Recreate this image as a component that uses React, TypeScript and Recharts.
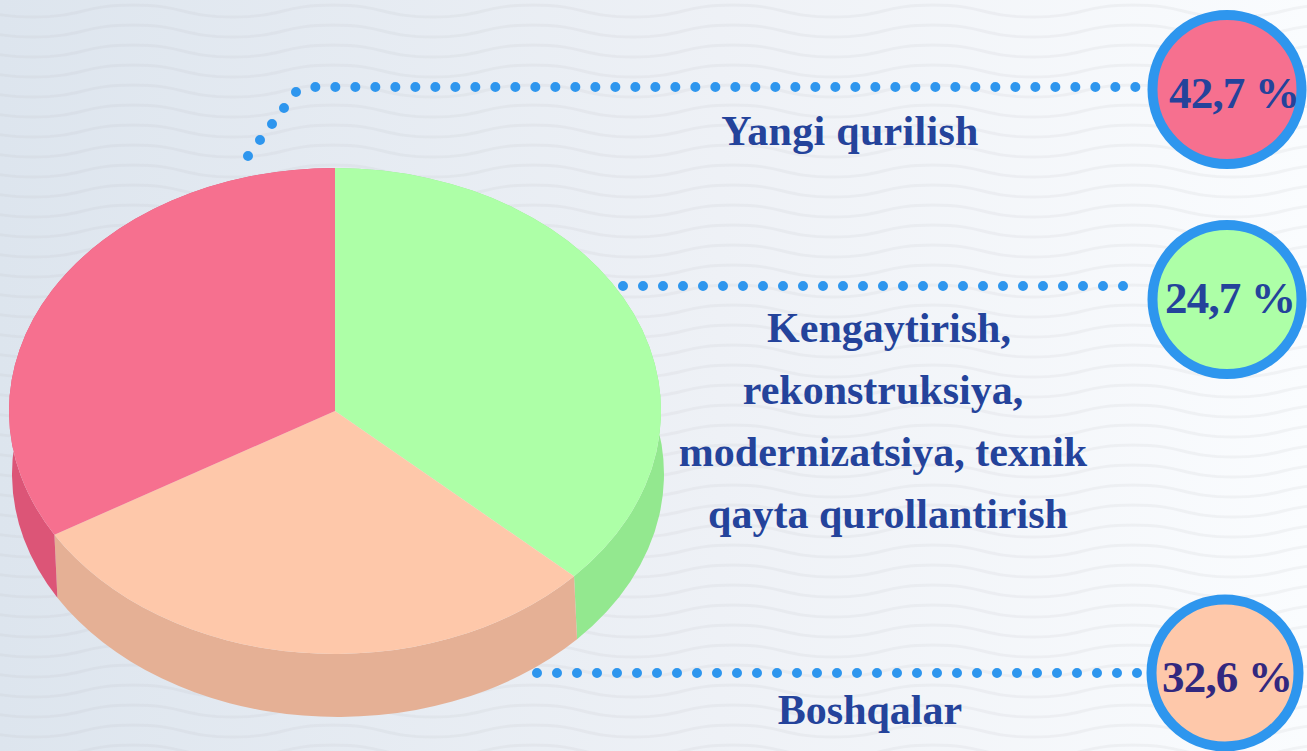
import React from 'react';
import { PieChart, Pie, Sector } from 'recharts';

// slice sizes as drawn (the picture's wedges do not follow the printed percentages)
const sliceNames = ['Kengaytirish', 'Boshqalar', 'Yangi qurilish'];
const sliceShares = [36.9, 29.6, 33.5];
const topColors = ['#adffa7', '#fec8aa', '#f6708f'];
const wallColors = ['#93e88f', '#e5b095', '#dc5577'];

const percentLabels = ['42,7 %', '24,7 %', '32,6 %'];
const percentFills = ['#f6708f', '#adffa7', '#fec8aa'];
const percentColors = ['#24439b', '#24439b', '#32287f'];

const WIDTH = 1307;
const HEIGHT = 751;
const CX = 335;
const CY = 411;
const RADIUS = 326;
const SQUASH = 243 / 326;
const DEPTH_X = 3;
const DEPTH_Y = 63;

const topData = sliceNames.map((name, i) => ({ name, value: sliceShares[i], fill: topColors[i] }));
const wallData = sliceNames.map((name, i) => ({ name, value: sliceShares[i], fill: wallColors[i] }));

const font = '"Liberation Serif", "Times New Roman", serif';
const RAD = Math.PI / 180;

const TopFace = (props: any) => (
  <g transform={`translate(0 ${props.cy}) scale(1 ${SQUASH}) translate(0 ${-props.cy})`}>
    <Sector {...props} stroke="none" />
  </g>
);

// side wall: the outer arc of a slice swept down by the pie's thickness
const Wall = (props: any) => {
  const { cx, cy, outerRadius: r, startAngle, endAngle, fill } = props;
  const ry = r * SQUASH;
  const x1 = cx + r * Math.cos(startAngle * RAD);
  const y1 = cy - ry * Math.sin(startAngle * RAD);
  const x2 = cx + r * Math.cos(endAngle * RAD);
  const y2 = cy - ry * Math.sin(endAngle * RAD);
  const large = Math.abs(startAngle - endAngle) > 180 ? 1 : 0;
  const d = `M${x1},${y1} A${r},${ry} 0 ${large} 1 ${x2},${y2} L${x2 + DEPTH_X},${y2 + DEPTH_Y} A${r},${ry} 0 ${large} 0 ${x1 + DEPTH_X},${y1 + DEPTH_Y} Z`;
  return <path d={d} fill={fill} />;
};

const layer: React.CSSProperties = { position: 'absolute', left: 0, top: 0 };

const Background = () => (
  <svg width={WIDTH} height={HEIGHT} style={layer}>
    <defs>
      <linearGradient id="bg" x1="0" y1="0" x2="1" y2="0">
        <stop offset="0" stopColor="#dde5ee" />
        <stop offset="0.55" stopColor="#eef1f6" />
        <stop offset="1" stopColor="#fafcfe" />
      </linearGradient>
      <pattern id="waves" width="200" height="20" patternUnits="userSpaceOnUse" patternTransform="translate(33 1)">
        <path d="M0,16 C50,16 50,4 100,4 C150,4 150,16 200,16" fill="none" stroke="#b0b3b8" strokeOpacity="0.13" strokeWidth="3" />
      </pattern>
      <filter id="soft">
        <feGaussianBlur stdDeviation="0.7" />
      </filter>
    </defs>
    <rect width={WIDTH} height={HEIGHT} fill="url(#bg)" />
    <rect width={WIDTH} height={HEIGHT} fill="url(#waves)" filter="url(#soft)" />
  </svg>
);

const Leaders = () => {
  const dots = { fill: 'none', stroke: '#2e96ee', strokeWidth: 10, strokeLinecap: 'round' as const, strokeDasharray: '0 20' };
  return (
    <>
      <polyline points="248,156 296,92 315,87 1137,87" {...dots} />
      <polyline points="623,286 1125,286" {...dots} />
      <polyline points="537,673 1139,673" {...dots} />
    </>
  );
};

const Badge = ({ x, y, r, i, tx, ty }: { x: number; y: number; r: number; i: number; tx: number; ty: number }) => (
  <>
    <circle cx={x} cy={y} r={r} fill={percentFills[i]} stroke="#2e96ee" strokeWidth={10} />
    <text x={tx} y={ty} fontFamily={font} fontWeight="bold" fontSize={45} letterSpacing={-0.8} fill={percentColors[i]}>
      {percentLabels[i]}
    </text>
  </>
);

const Caption = ({ x, y, spacing = 0, children }: { x: number; y: number; spacing?: number; children: string }) => (
  <text x={x} y={y} textAnchor="middle" fontFamily={font} fontWeight="bold" fontSize={42} fill="#24439b" letterSpacing={spacing}>
    {children}
  </text>
);

export default function App() {
  return (
    <div style={{ ...layer, position: 'fixed', width: WIDTH, height: HEIGHT, overflow: 'hidden' }}>
      <Background />
      <div style={layer}>
        <PieChart width={WIDTH} height={HEIGHT} margin={{ top: 0, right: 0, bottom: 0, left: 0 }}>
          <Pie
            data={wallData}
            dataKey="value"
            cx={CX}
            cy={CY}
            outerRadius={RADIUS}
            startAngle={90}
            endAngle={-270}
            stroke="none"
            shape={Wall}
            isAnimationActive={false}
          />
          <Pie
            data={topData}
            dataKey="value"
            cx={CX}
            cy={CY}
            outerRadius={RADIUS}
            startAngle={90}
            endAngle={-270}
            stroke="none"
            shape={TopFace}
            isAnimationActive={false}
          />
        </PieChart>
      </div>
      <svg width={WIDTH} height={HEIGHT} style={layer}>
        <Leaders />
        <Badge x={1227} y={89.5} r={74.5} i={0} tx={1169} ty={108} />
        <Badge x={1227} y={299.5} r={74.5} i={1} tx={1165} ty={312.5} />
        <Badge x={1225} y={673} r={73.5} i={2} tx={1162} ty={692} />
        <Caption x={850} y={145} spacing={0.3}>Yangi qurilish</Caption>
        <Caption x={889} y={342}>Kengaytirish,</Caption>
        <Caption x={883} y={404}>rekonstruksiya,</Caption>
        <Caption x={883} y={466}>modernizatsiya, texnik</Caption>
        <Caption x={888} y={528}>qayta qurollantirish</Caption>
        <Caption x={870} y={724}>Boshqalar</Caption>
      </svg>
    </div>
  );
}
